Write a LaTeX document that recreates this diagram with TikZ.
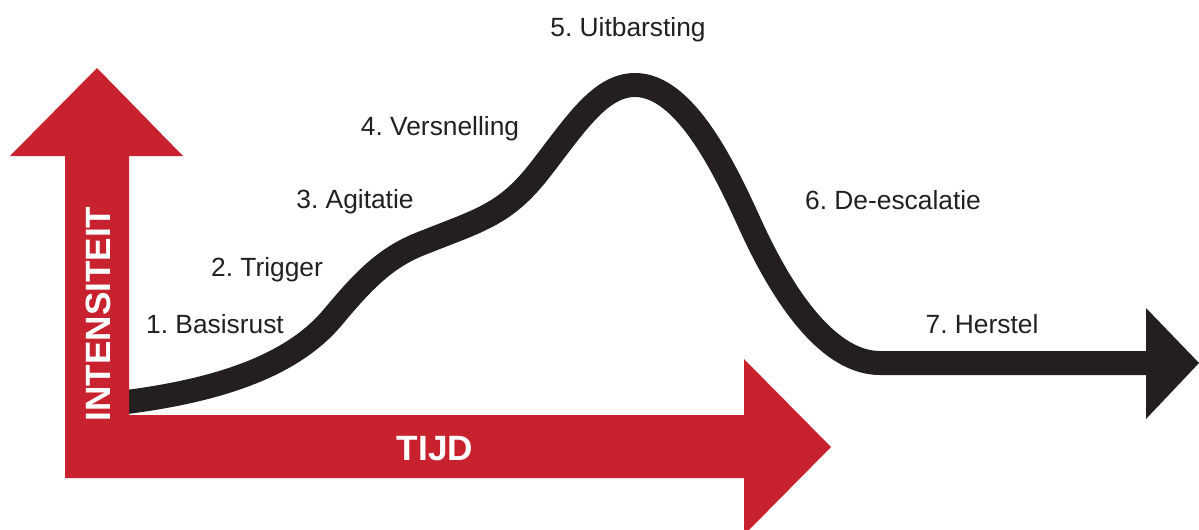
\documentclass[tikz,border=0pt]{standalone}
\usepackage{fontspec}
\setmainfont{Liberation Sans}
\frenchspacing
\definecolor{rood}{HTML}{C9222F}
\definecolor{zwart}{HTML}{231F20}

\begin{document}
\begin{tikzpicture}[x=0.02cm, y=0.02cm,
        fase/.style={anchor=base, text=zwart, font=\fontsize{15}{18}\selectfont},
        as/.style={anchor=base, text=white, font=\bfseries\fontsize{20}{24}\selectfont}]
        \useasboundingbox (0,0) rectangle (1199,529);

        % verloop
        \draw[zwart, line width=0.48cm] (110,125) coordinate (S)
        .. controls (219,137) and (293,164) .. (333,212) coordinate (P1)
        .. controls (363,248) and (385,271) .. (420,285) coordinate (P2)
        .. controls (480,309) and (505,314) .. (540,359) coordinate (P3)
        .. controls (575,404) and (600,444) .. (635,444) coordinate (top)
        .. controls (685,444) and (725,360) .. (750,305) coordinate (P5)
        .. controls (785,228) and (830,166) .. (880,166) coordinate (P6)
        -- (1148,166) coordinate (E);
        \fill[zwart] (1146,221) -- (1199,166) -- (1146,110) -- cycle;

        % assen
        \fill[rood] (65,51) -- (65,373) -- (10,373) -- (97,461) -- (183,373) -- (129,373)
        -- (129,114) -- (744,114) -- (744,170) -- (831,82) -- (744,-6) -- (744,51) -- cycle;
        \node[as, rotate=90] (intensiteit) at (110,215) {INTENSITEIT};
        \node[as] (tijd) at (435,69) {TIJD};

        % fasen
        \node[fase] (basisrust) at (215,196) {1. Basisrust};
        \node[fase] (trigger) at (267,253) {2. Trigger};
        \node[fase] (agitatie) at (355,321) {3. Agitatie};
        \node[fase] (versnelling) at (440,394) {4. Versnelling};
        \node[fase] (uitbarsting) at (628,493) {5. Uitbarsting};
        \node[fase] (deescalatie) at (893,320) {6. De-escalatie};
        \node[fase] (herstel) at (982,196) {7. Herstel};

    \end{tikzpicture}
\end{document}
